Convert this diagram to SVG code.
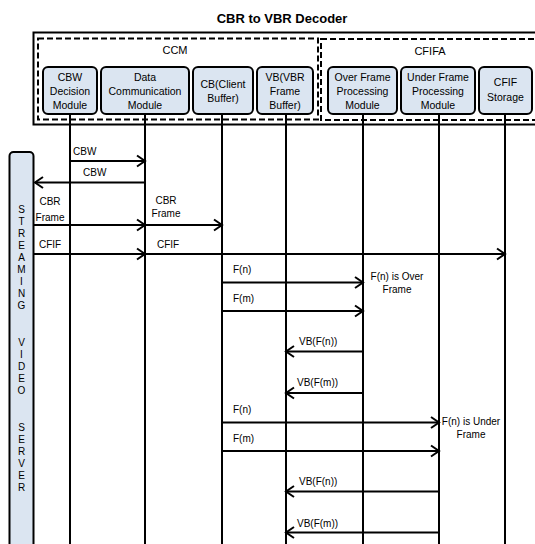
<svg xmlns="http://www.w3.org/2000/svg" width="535" height="544" viewBox="0 0 535 544">
<style>
text{font-family:"Liberation Sans",Arial,sans-serif;fill:#000}
.title{font-size:13px;font-weight:bold;text-anchor:middle}
.grp{font-size:11px}
.nt{font-size:10.5px;text-anchor:middle}
.lbl{font-size:10px}
.node{fill:#dbe5f1;stroke:#000;stroke-width:2}
.dash{fill:none;stroke:#000;stroke-width:2;stroke-dasharray:6 3}
.life{stroke:#000;stroke-width:2}
.msg{stroke:#000;stroke-width:2;fill:none;marker-end:url(#ah)}
.vt{font-size:10px;text-anchor:middle}
</style>
<defs>
<marker id="ah" markerUnits="userSpaceOnUse" markerWidth="12" markerHeight="14" refX="9" refY="7" orient="auto">
<path d="M1,1.5 L9,7 L1,12.5" fill="none" stroke="#000" stroke-width="2"/>
</marker>
</defs>
<rect width="535" height="544" fill="#fff"/>
<text class="title" x="282" y="23">CBR to VBR Decoder</text>

<g id="frame">
<rect x="33.5" y="32.5" width="520" height="92" fill="none" stroke="#000" stroke-width="2"/>
</g>
<g id="ccm">
<rect class="dash" x="38" y="38.5" width="280" height="81"/>
<text class="grp" x="175" y="54" text-anchor="middle">CCM</text>
</g>
<g id="cfifa">
<rect class="dash" x="321" y="39" width="230" height="81"/>
<text class="grp" x="430" y="55" text-anchor="middle">CFIFA</text>
</g>

<g id="lifelines">
<line class="life" x1="70" y1="114" x2="70" y2="544"/>
<line class="life" x1="145" y1="114" x2="145" y2="544"/>
<line class="life" x1="222" y1="114" x2="222" y2="544"/>
<line class="life" x1="286" y1="114" x2="286" y2="544"/>
<line class="life" x1="363" y1="114" x2="363" y2="544"/>
<line class="life" x1="439" y1="114" x2="439" y2="544"/>
<line class="life" x1="505" y1="114" x2="505" y2="544"/>
</g>

<g id="cbw-node">
<rect class="node" x="43" y="67" width="54" height="47" rx="5"/>
<text class="nt" x="70" y="81">CBW</text>
<text class="nt" x="70" y="94.5">Decision</text>
<text class="nt" x="70" y="108.5">Module</text>
</g>
<g id="dc-node">
<rect class="node" x="101" y="67" width="88" height="47" rx="5"/>
<text class="nt" x="145" y="81">Data</text>
<text class="nt" x="145" y="94.5">Communication</text>
<text class="nt" x="145" y="108.5">Module</text>
</g>
<g id="cb-node">
<rect class="node" x="193" y="67" width="60" height="47" rx="5"/>
<text class="nt" x="223" y="88">CB(Client</text>
<text class="nt" x="223" y="101.5">Buffer)</text>
</g>
<g id="vb-node">
<rect class="node" x="257" y="67" width="56" height="47" rx="5"/>
<text class="nt" x="285" y="81">VB(VBR</text>
<text class="nt" x="285" y="94.5">Frame</text>
<text class="nt" x="285" y="108.5">Buffer)</text>
</g>
<g id="over-node">
<rect class="node" x="328" y="67" width="69" height="47" rx="5"/>
<text class="nt" x="362.5" y="81">Over Frame</text>
<text class="nt" x="362.5" y="94.5">Processing</text>
<text class="nt" x="362.5" y="108.5">Module</text>
</g>
<g id="under-node">
<rect class="node" x="401" y="67" width="74" height="47" rx="5"/>
<text class="nt" x="438" y="81">Under Frame</text>
<text class="nt" x="438" y="94.5">Processing</text>
<text class="nt" x="438" y="108.5">Module</text>
</g>
<g id="cfif-node">
<rect class="node" x="479" y="67" width="53" height="47" rx="5"/>
<text class="nt" x="505.5" y="86">CFIF</text>
<text class="nt" x="505.5" y="101">Storage</text>
</g>

<g id="server">
<rect class="node" x="9.5" y="152" width="24" height="400" rx="4"/>
<text class="vt" x="21.5" y="213">S</text>
<text class="vt" x="21.5" y="225">T</text>
<text class="vt" x="21.5" y="237">R</text>
<text class="vt" x="21.5" y="249">E</text>
<text class="vt" x="21.5" y="261">A</text>
<text class="vt" x="21.5" y="273">M</text>
<text class="vt" x="21.5" y="285">I</text>
<text class="vt" x="21.5" y="297">N</text>
<text class="vt" x="21.5" y="309">G</text>
<text class="vt" x="21.5" y="346">V</text>
<text class="vt" x="21.5" y="358">I</text>
<text class="vt" x="21.5" y="370">D</text>
<text class="vt" x="21.5" y="382">E</text>
<text class="vt" x="21.5" y="394">O</text>
<text class="vt" x="21.5" y="431">S</text>
<text class="vt" x="21.5" y="443">E</text>
<text class="vt" x="21.5" y="455">R</text>
<text class="vt" x="21.5" y="467">V</text>
<text class="vt" x="21.5" y="479">E</text>
<text class="vt" x="21.5" y="491">R</text>
</g>

<g id="connectors">
<line class="msg" x1="70" y1="161" x2="145" y2="161"/>
<line class="msg" x1="145" y1="182.5" x2="35" y2="182.5"/>
<line class="msg" x1="34" y1="225" x2="145" y2="225"/>
<line class="msg" x1="145" y1="225" x2="222" y2="225"/>
<line class="msg" x1="34" y1="254" x2="145" y2="254"/>
<line class="msg" x1="145" y1="254" x2="505" y2="254"/>
<line class="msg" x1="222" y1="282.5" x2="363" y2="282.5"/>
<line class="msg" x1="222" y1="311" x2="363" y2="311"/>
<line class="msg" x1="363" y1="351.5" x2="286" y2="351.5"/>
<line class="msg" x1="363" y1="393" x2="286" y2="393"/>
<line class="msg" x1="222" y1="422.5" x2="439" y2="422.5"/>
<line class="msg" x1="222" y1="451" x2="439" y2="451"/>
<line class="msg" x1="439" y1="491.5" x2="286" y2="491.5"/>
<line class="msg" x1="439" y1="532.5" x2="286" y2="532.5"/>
<text class="lbl" x="73" y="154.5">CBW</text>
<text class="lbl" x="83" y="175.5">CBW</text>
<text class="lbl" x="50" y="205" text-anchor="middle">CBR</text>
<text class="lbl" x="50" y="220.5" text-anchor="middle">Frame</text>
<text class="lbl" x="166" y="203.5" text-anchor="middle">CBR</text>
<text class="lbl" x="166" y="217" text-anchor="middle">Frame</text>
<text class="lbl" x="39" y="247.5">CFIF</text>
<text class="lbl" x="157" y="247.5">CFIF</text>
<text class="lbl" x="233" y="273">F(n)</text>
<text class="lbl" x="233" y="301.5">F(m)</text>
<text class="lbl" x="397" y="279.5" text-anchor="middle">F(n) is Over</text>
<text class="lbl" x="397" y="293" text-anchor="middle">Frame</text>
<text class="lbl" x="299" y="345">VB(F(n))</text>
<text class="lbl" x="297" y="386">VB(F(m))</text>
<text class="lbl" x="233" y="413">F(n)</text>
<text class="lbl" x="233" y="441.5">F(m)</text>
<text class="lbl" x="471" y="424.5" text-anchor="middle">F(n) is Under</text>
<text class="lbl" x="471" y="438" text-anchor="middle">Frame</text>
<text class="lbl" x="299" y="485">VB(F(n))</text>
<text class="lbl" x="297" y="526.5">VB(F(m))</text>
</g>
</svg>
